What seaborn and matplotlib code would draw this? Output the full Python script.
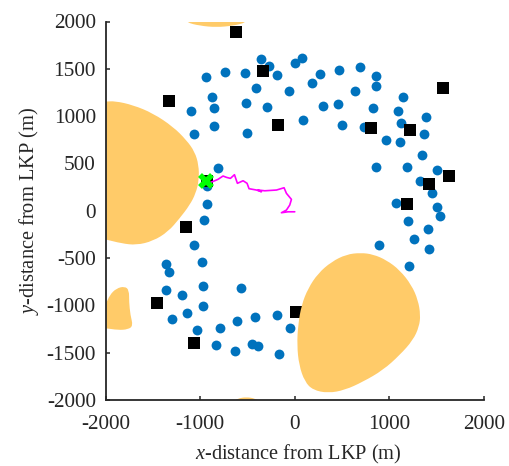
import matplotlib
matplotlib.use("Agg")
import matplotlib.pyplot as plt
import seaborn as sns
from matplotlib.path import Path
from matplotlib.patches import PathPatch

sns.set_theme(style="ticks")
plt.rcParams.update({
    "font.family": ["Liberation Serif", "DejaVu Serif"],
    "mathtext.fontset": "custom",
    "mathtext.rm": "Liberation Serif",
    "mathtext.it": "Liberation Serif:italic",
    "axes.unicode_minus": False,
})

dot_x = [-359, -275, 0, 74, -933, -732, -521, -190, -405, -56, -870, -511, -293, -853, -1092, -849, -500, -1064,
         -811, -930, -927, 264, 468, 690, 856, 859, 183, 634, 299, 462, 828, 1149, 1092, 88, 500, 729, 1120, 1385,
         1364, 969, 1117, 1346, 859, 1184, 1501, 1321, 1448, 1068, 1504, 1533, 1202, 1406, 1258, 1416, 895, 1208,
         -954, -1068, -976, -1364, -1324, -972, -1364, -1194, -571, -969, -1134, -1293, -1036, -790, -613, -420,
         -183, -53, -832, -631, -455, -388, -166]
dot_y = [1603, 1529, 1558, 1614, 1413, 1469, 1455, 1431, 1300, 1270, 1205, 1135, 1099, 1082, 1051, 898, 824, 814,
         454, 264, 74, 1448, 1484, 1522, 1424, 1315, 1347, 1265, 1104, 1131, 1082, 1199, 1057, 962, 906, 885, 930,
         987, 814, 744, 723, 589, 465, 459, 430, 311, 190, 81, 36, -53, -109, -197, -299, -408, -363, -585,
         -101, -359, -542, -567, -645, -793, -841, -891, -820, -1007, -1084, -1141, -1258, -1237, -1163, -1127,
         -1099, -1237, -1423, -1486, -1409, -1433, -1511]

square_x = [-624, -331, -1332, -172, 1564, 811, 1216, 1635, 1416, 1181, -1152, -1451, -1068, 11, -930]
square_y = [1886, 1473, 1156, 909, 1294, 874, 850, 367, 282, 71, -169, -979, -1395, -1071, 314]

track_x = [-899, -846, -811, -758, -722, -680, -637, -624, -606, -546, -504, -483, -405, -352, -388, -317, -193,
           -113, -88, -35, -53, -88, -141, -71, 0]
track_y = [296, 317, 332, 367, 353, 342, 381, 342, 290, 317, 290, 233, 219, 201, 219, 211, 219, 243, 184, 120, 60,
           7, -21, -11, -11]

start_x = [-935]
start_y = [314]

hazard_left = [(-2200, 1152), (-2000, 1152), (-1902, 1160), (-1709, 1117), (-1498, 1030), (-1286, 888), (-1145, 747),
               (-1057, 624), (-1015, 483), (-1012, 324), (-1046, 184), (-1110, 60), (-1216, -80), (-1339, -222),
               (-1498, -320), (-1673, -363), (-1832, -345), (-2000, -302), (-2200, -260)]
hazard_main = [(698, -444), (546, -461), (388, -539), (246, -662), (141, -820), (71, -997), (35, -1208), (24, -1420),
               (45, -1631), (106, -1807), (193, -1895), (352, -1927), (529, -1895), (722, -1807), (933, -1684),
               (1110, -1525), (1250, -1367), (1314, -1226), (1329, -1102), (1303, -944), (1234, -785), (1110, -627),
               (969, -521), (828, -461)]
hazard_small = [(-2200, -1050), (-2000, -997), (-1956, -891), (-1885, -820), (-1797, -799), (-1751, -838), (-1751, -962),
                (-1737, -1102), (-1709, -1216), (-1762, -1254), (-1868, -1261), (-2000, -1240), (-2200, -1230)]
hazard_top = [(-1200, 2060), (-1145, 1990), (-1004, 1955), (-828, 1939), (-652, 1955), (-511, 1990), (-460, 2060)]
hazard_bottom = [(-658, -2020), (-599, -1983), (-511, -1969), (-423, -1983), (-363, -2020)]

x_ticks = [-2000, -1000, 0, 1000, 2000]
y_ticks = [-2000, -1500, -1000, -500, 0, 500, 1000, 1500, 2000]
x_label = r"$\mathit{x}$-distance from LKP (m)"
y_label = r"$\mathit{y}$-distance from LKP (m)"

SPINE = "#262626"
fig = plt.figure(figsize=(5.09, 4.66), dpi=100)
ax = fig.add_axes([105.5 / 509, 66 / 466, 378.5 / 509, 378.5 / 466])

sns.scatterplot(x=dot_x, y=dot_y, ax=ax, color="#0072BD", s=50, linewidth=0, zorder=2)
sns.scatterplot(x=square_x, y=square_y, ax=ax, color="black", marker="s", s=84, linewidth=0, zorder=3)


def smooth_patch(pts):
    n = len(pts)
    mid = lambda a, b: ((a[0] + b[0]) / 2, (a[1] + b[1]) / 2)
    verts = [mid(pts[-1], pts[0])]
    codes = [Path.MOVETO]
    for i in range(n):
        verts += [pts[i], mid(pts[i], pts[(i + 1) % n])]
        codes += [Path.CURVE3, Path.CURVE3]
    return PathPatch(Path(verts, codes), facecolor="#FFCB69", edgecolor="none", zorder=4)


for poly in (hazard_left, hazard_main, hazard_small, hazard_top, hazard_bottom):
    ax.add_patch(smooth_patch(poly))

sns.lineplot(x=track_x, y=track_y, ax=ax, sort=False, estimator=None, color="#FF00FF", linewidth=1.2, zorder=5)
ax.plot(start_x, start_y, marker="x", color="#00FF00", markersize=9, markeredgewidth=4, linestyle="none", zorder=6)

ax.set_xlim(-2000, 2000)
ax.set_ylim(-2000, 2000)
ax.set_xticks(x_ticks)
ax.set_yticks(y_ticks)
ax.tick_params(direction="in", length=3, width=1.1, color=SPINE, labelsize=15.3, labelcolor="#262626")
ax.tick_params(axis="x", pad=11)
ax.tick_params(axis="y", pad=7)
ax.set_xlabel(x_label, fontsize=14.7, color="#262626", labelpad=6.5, x=0.51)
ax.set_ylabel(y_label, fontsize=14.7, color="#262626", labelpad=4)
sns.despine(ax=ax)
for side in ("left", "bottom"):
    ax.spines[side].set_linewidth(1.3)
    ax.spines[side].set_color(SPINE)
    ax.spines[side].set_zorder(7)

fig.savefig("out.png", dpi=100)
